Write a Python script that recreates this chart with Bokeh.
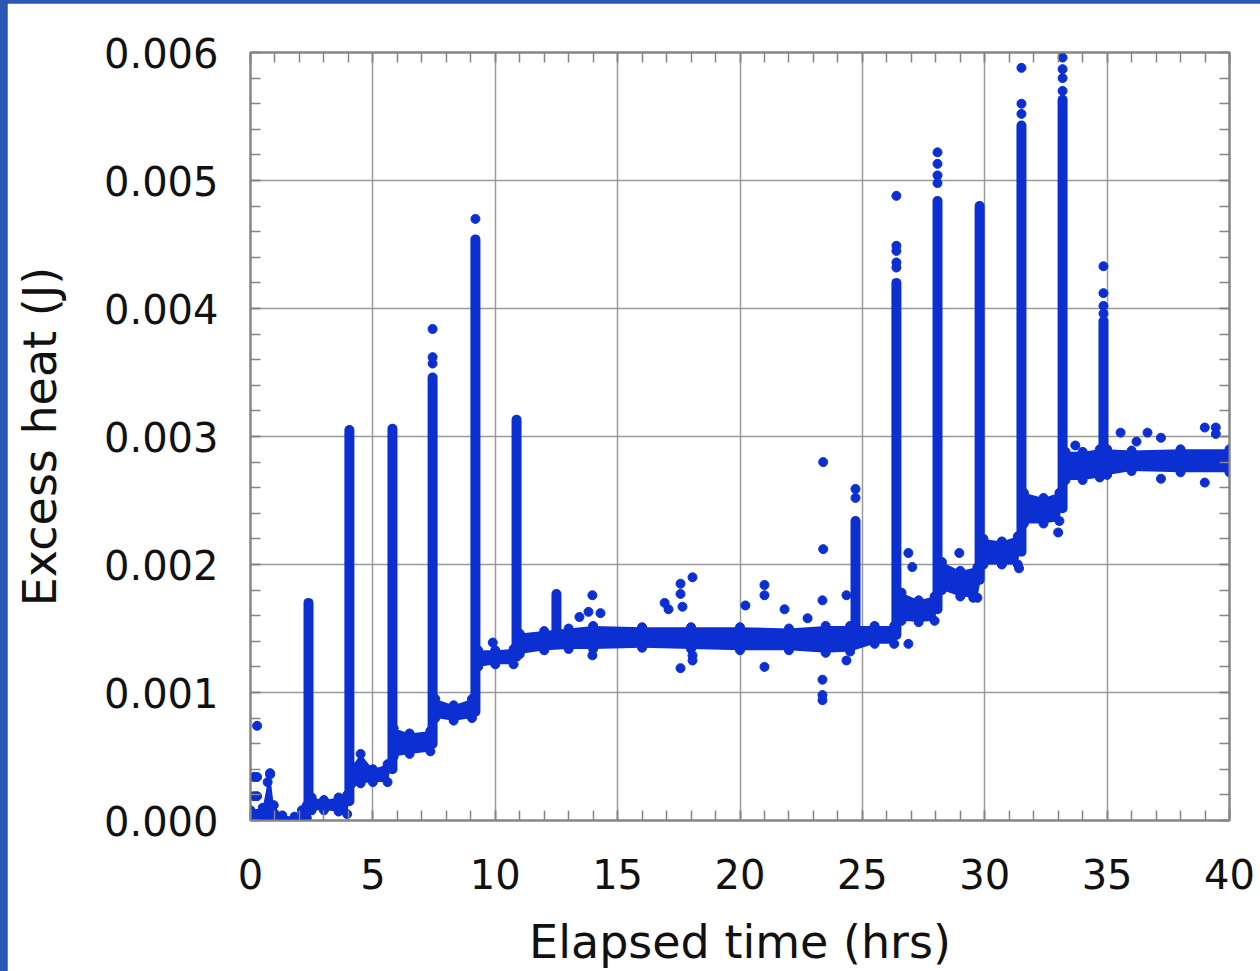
from bokeh.plotting import figure
from bokeh.models import (SingleIntervalTicker, LinearAxis, NumeralTickFormatter,
                          ColumnDataSource, CustomJSTickFormatter)
from bokeh.layouts import column
from bokeh.embed import file_html
from bokeh.resources import INLINE

# ---------------- data ----------------
# dense baseline band: time (hrs), lower and upper edge (J)
band_t = [0.0, 0.5, 0.7, 0.8, 0.95, 1.3, 1.8, 2.1, 2.3,
          2.5, 3.0, 3.6, 3.95,
          4.15, 4.5, 5.0, 5.6,
          5.85, 6.5, 7.35,
          7.55, 8.3, 9.05,
          9.3, 10.0, 10.75,
          11.0, 12.0, 13.0, 14.0, 16.0, 18.0, 20.0, 22.0, 23.5, 24.5, 25.5, 26.3,
          26.6, 27.3, 27.95,
          28.25, 29.0, 29.7,
          29.95, 30.7, 31.35,
          31.6, 32.4, 33.05,
          33.3, 34.0, 34.7,
          35.0, 36.0, 38.0, 40.0]
band_lo = [-0.00002, -0.00002, 0.0, 0.0, 0.0, -0.00002, -0.00002, 0.0, 0.00002,
           0.00008, 0.00008, 0.00007, 0.00005,
           0.00029, 0.00029, 0.00030, 0.00030,
           0.00050, 0.00052, 0.00054,
           0.00080, 0.00078, 0.00080,
           0.00120, 0.00122, 0.00122,
           0.00130, 0.00133, 0.00134, 0.00134, 0.00135, 0.00134, 0.00133, 0.00133, 0.00131, 0.00132, 0.00138, 0.00138,
           0.00156, 0.00155, 0.00156,
           0.00180, 0.00175, 0.00174,
           0.00200, 0.00200, 0.00200,
           0.00232, 0.00232, 0.00234,
           0.00266, 0.00266, 0.00268,
           0.00270, 0.00273, 0.00272, 0.00272]
band_hi = [0.00008, 0.00010, 0.00030, 0.00036, 0.00012, 0.00004, 0.00003, 0.00008, 0.00012,
           0.00018, 0.00016, 0.00018, 0.00020,
           0.00042, 0.00052, 0.00040, 0.00044,
           0.00072, 0.00068, 0.00070,
           0.00095, 0.00090, 0.00095,
           0.00133, 0.00133, 0.00134,
           0.00146, 0.00148, 0.00150, 0.00152, 0.00151, 0.00151, 0.00151, 0.00150, 0.00152, 0.00152, 0.00152, 0.00152,
           0.00178, 0.00172, 0.00175,
           0.00202, 0.00195, 0.00198,
           0.00220, 0.00218, 0.00222,
           0.00256, 0.00252, 0.00256,
           0.00288, 0.00288, 0.00290,
           0.00290, 0.00289, 0.00290, 0.00290]

# heat spikes: time, base of the spike and top of its dense column (J)
spike_t = [2.37, 4.04, 5.80, 7.44, 9.19, 10.87, 12.5, 24.72, 26.39, 28.07, 29.79, 31.50, 33.18, 34.85]
spike_base = [0.00010, 0.00015, 0.00040, 0.00060, 0.00085, 0.00128, 0.00142, 0.00142, 0.00145,
              0.00165, 0.00188, 0.00210, 0.00244, 0.00278]
spike_top = [0.00170, 0.00305, 0.00306, 0.00346, 0.00454, 0.00313, 0.00177, 0.00234, 0.00420,
             0.00484, 0.00480, 0.00543, 0.00563, 0.00390]

# isolated points (spike tips and scattered outliers)
point_t = [0.14, 0.27, 0.27, 0.27, 0.14, 0.80,
           7.44, 7.44, 7.44, 9.19,
           26.39, 26.39, 26.39, 26.39, 26.39,
           28.07, 28.07, 28.07, 28.07,
           31.50, 31.50, 31.50,
           33.18, 33.18, 33.18, 33.18,
           34.85, 34.85, 34.85, 34.85,
           24.72, 24.72,
           9.90, 13.97, 13.81, 13.44, 14.30, 13.97, 16.92, 17.08, 17.57, 17.57, 17.65, 18.06,
           17.57, 18.06, 18.06, 21.00, 21.00, 20.22, 21.00, 21.82, 23.37, 23.37, 23.37, 23.37,
           24.35, 24.35, 22.76, 23.40, 23.40,
           26.88, 27.04, 26.88, 28.96, 29.53, 31.40, 33.00, 33.70,
           35.55, 36.65, 38.99, 39.44, 39.44, 37.20, 38.99, 37.20, 36.20]
point_v = [0.00034, 0.00074, 0.00034, 0.00019, 0.00019, 0.00037,
           0.00384, 0.00362, 0.00357, 0.00470,
           0.00488, 0.00449, 0.00445, 0.00436, 0.00432,
           0.00522, 0.00513, 0.00504, 0.00498,
           0.00588, 0.00560, 0.00552,
           0.00596, 0.00587, 0.00580, 0.00570,
           0.00433, 0.00412, 0.00402, 0.00396,
           0.00259, 0.00252,
           0.00139, 0.00176, 0.00163, 0.00159, 0.00162, 0.00129, 0.00170, 0.00165, 0.00185, 0.00177, 0.00167, 0.00190,
           0.00119, 0.00129, 0.00125, 0.00184, 0.00176, 0.00168, 0.00120, 0.00165, 0.00110, 0.00098, 0.00094, 0.00172,
           0.00176, 0.00125, 0.00158, 0.00280, 0.00212,
           0.00209, 0.00198, 0.00138, 0.00209, 0.00174, 0.00197, 0.00225, 0.00293,
           0.00303, 0.00303, 0.00307, 0.00307, 0.00302, 0.00299, 0.00264, 0.00267, 0.00296]

x_ticks_interval = 5
y_ticks_interval = 0.001

# ---------------- styling ----------------
BLUE = "#0c2fd2"
FONT = "DejaVu Sans"
GRID = "#9a9a9a"
FRAME = "#858585"

p = figure(width=1253, height=968, x_range=(0, 40), y_range=(0, 0.006),
           output_backend="svg", toolbar_location=None,
           min_border_left=243, min_border_right=31, min_border_top=49, min_border_bottom=151)
p.margin = (3, 0, 0, 7)
p.background_fill_color = "white"
p.border_fill_color = "white"
p.outline_line_color = FRAME
p.outline_line_width = 2

xt = SingleIntervalTicker(interval=x_ticks_interval, num_minor_ticks=5)
yt = SingleIntervalTicker(interval=y_ticks_interval, num_minor_ticks=5)

bottom_ax = p.below[0]
left_ax = p.left[0]

bottom_ax.ticker = xt
left_ax.ticker = yt
left_ax.formatter = NumeralTickFormatter(format="0.000")
bottom_ax.formatter = NumeralTickFormatter(format="0")
p.xgrid.ticker = xt
p.ygrid.ticker = yt
for g in (p.xgrid, p.ygrid):
    g.grid_line_color = GRID
    g.grid_line_width = 1.5

bottom_ax.axis_label = "Elapsed time (hrs)"
left_ax.axis_label = "Excess heat (J)"

blank = CustomJSTickFormatter(code="return ''")
top_ax = LinearAxis(ticker=xt, formatter=blank, major_label_standoff=0)
right_ax = LinearAxis(ticker=yt, formatter=blank, major_label_standoff=0)
p.add_layout(top_ax, "above")
p.add_layout(right_ax, "right")

for ax in (bottom_ax, left_ax, top_ax, right_ax):
    ax.axis_line_color = FRAME
    ax.axis_line_width = 2
    ax.major_tick_in = 10
    ax.major_tick_out = 0
    ax.minor_tick_in = 10
    ax.minor_tick_out = 0
    ax.major_tick_line_color = FRAME
    ax.minor_tick_line_color = FRAME
    ax.major_tick_line_width = 1.5
    ax.minor_tick_line_width = 1.5
    ax.major_label_text_font = FONT
    ax.axis_label_text_font = FONT
    ax.major_label_text_color = "#111111"
    ax.axis_label_text_color = "#111111"
    ax.axis_label_text_font_style = "normal"

bottom_ax.major_label_text_font_size = "40px"
left_ax.major_label_text_font_size = "40px"
bottom_ax.axis_label_text_font_size = "46px"
left_ax.axis_label_text_font_size = "46px"
bottom_ax.major_label_standoff = 38
left_ax.major_label_standoff = 32
bottom_ax.axis_label_standoff = 23
left_ax.axis_label_standoff = 34

# ---------------- glyphs ----------------
band_src = ColumnDataSource(dict(t=band_t, lo=band_lo, hi=band_hi))
p.varea(x="t", y1="lo", y2="hi", source=band_src, fill_color=BLUE)
p.scatter(x="t", y="lo", source=band_src, size=9, color=BLUE)
p.scatter(x="t", y="hi", source=band_src, size=9, color=BLUE)

spike_src = ColumnDataSource(dict(t=spike_t, b=spike_base, top=spike_top))
p.segment(x0="t", y0="b", x1="t", y1="top", source=spike_src,
          line_width=10, line_color=BLUE, line_cap="round")

p.scatter(x=point_t, y=point_v, size=9, color=BLUE)

layout = column(p, styles={"background-color": "#2a58b4"})
open("out.html", "w").write(file_html(layout, INLINE))
